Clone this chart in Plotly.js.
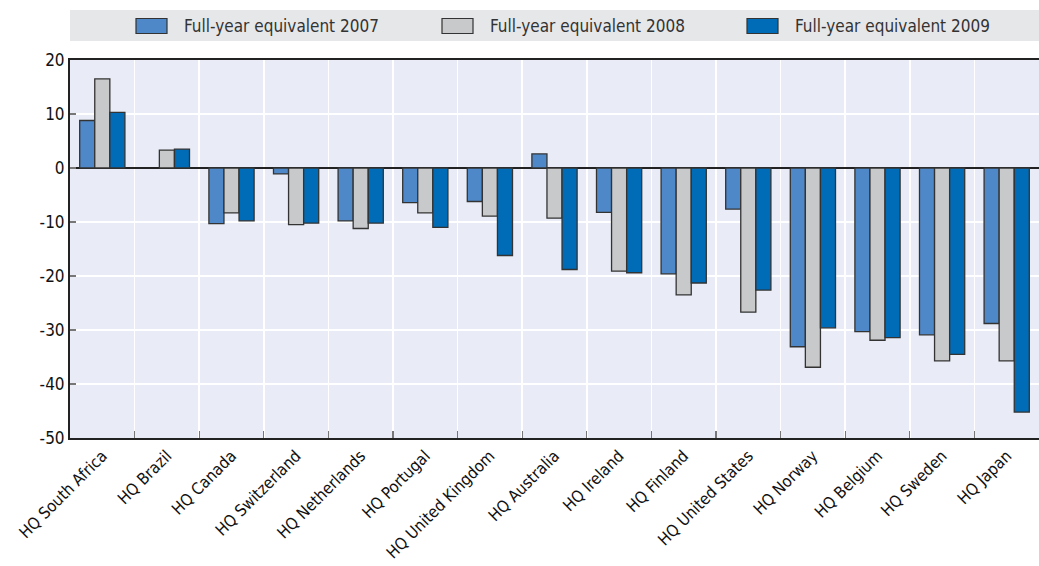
<!DOCTYPE html>
<html>
<head>
<meta charset="utf-8">
<script src="https://cdn.plot.ly/plotly-3.0.1.min.js"></script>
<style>
html,body{margin:0;padding:0;background:#fff;}
#chart{width:1039px;height:566px;}
</style>
</head>
<body>
<div id="chart"></div>
<script>
const categories = ["HQ South Africa","HQ Brazil","HQ Canada","HQ Switzerland","HQ Netherlands","HQ Portugal","HQ United Kingdom","HQ Australia","HQ Ireland","HQ Finland","HQ United States","HQ Norway","HQ Belgium","HQ Sweden","HQ Japan"];
const seriesNames = ["Full-year equivalent 2007","Full-year equivalent 2008","Full-year equivalent 2009"];
const values2007 = [8.8, null, -10.3, -1.1, -9.8, -6.4, -6.2, 2.6, -8.2, -19.6, -7.6, -33.1, -30.3, -30.9, -28.8];
const values2008 = [16.5, 3.3, -8.3, -10.5, -11.2, -8.3, -8.9, -9.3, -19.1, -23.5, -26.7, -36.9, -31.9, -35.7, -35.7];
const values2009 = [10.3, 3.5, -9.8, -10.2, -10.2, -11.0, -16.2, -18.8, -19.4, -21.3, -22.6, -29.6, -31.4, -34.5, -45.2];
const yTicks = [-50, -40, -30, -20, -10, 0, 10, 20];

const colors = ["#4f88c8", "#c8c9cb", "#006bb6"];
const allValues = [values2007, values2008, values2009];
const FONT = "'Liberation Sans Narrow', 'Arial Narrow', 'DejaVu Sans Condensed', sans-serif";

const W = 1039, H = 566;
const M = {l: 70, r: 0, t: 60, b: 128};
const plotW = W - M.l - M.r, plotH = H - M.t - M.b;

const traces = allValues.map((v, i) => ({
  type: "bar",
  name: seriesNames[i],
  x: categories,
  y: v,
  marker: {color: colors[i], line: {color: "#333333", width: 1.3}},
  hoverinfo: "x+y+name"
}));

// custom legend in paper coordinates (pixel -> paper)
const px = x => (x - M.l) / plotW;
const py = y => (H - M.b - y) / plotH;
const legendSymX = [136, 442, 747];
const shapes = [{
  type: "rect", xref: "paper", yref: "paper",
  x0: px(70), x1: px(1039), y0: py(41), y1: py(10),
  fillcolor: "#e6e7e9", line: {width: 0}, layer: "below"
}];
const annotations = [];
seriesNames.forEach((n, i) => {
  shapes.push({
    type: "rect", xref: "paper", yref: "paper",
    x0: px(legendSymX[i]), x1: px(legendSymX[i] + 31), y0: py(33.5), y1: py(18.5),
    fillcolor: colors[i], line: {color: "#333", width: 1.2}
  });
  annotations.push({
    xref: "paper", yref: "paper",
    x: px(legendSymX[i] + 46), y: py(25.5),
    xanchor: "left", yanchor: "middle",
    text: n, showarrow: false,
    font: {family: FONT, size: 17, color: "#333"}
  });
});

const layout = {
  width: W, height: H,
  margin: M,
  paper_bgcolor: "#ffffff",
  plot_bgcolor: "#e9ecf6",
  barmode: "group",
  bargap: 0.3,
  bargroupgap: 0,
  font: {family: FONT, size: 16, color: "#000"},
  showlegend: false,
  shapes: shapes,
  annotations: annotations,
  xaxis: {
    type: "category",
    tickson: "boundaries",
    showgrid: true, gridcolor: "#ffffff", gridwidth: 1.5,
    ticks: "inside", ticklen: 7, tickcolor: "#777", tickwidth: 1.2,
    tickangle: -45,
    showline: true, linecolor: "#222", linewidth: 2, mirror: true,
    tickfont: {family: FONT, size: 16.3, color: "#111"},
    automargin: false
  },
  yaxis: {
    range: [-50, 20],
    tickvals: yTicks,
    ticktext: yTicks.map(String),
    showgrid: true, gridcolor: "#ffffff", gridwidth: 1.5,
    zeroline: true, zerolinecolor: "#222", zerolinewidth: 1.2,
    ticks: "inside", ticklen: 6, tickcolor: "#777", tickwidth: 1.2,
    showline: true, linecolor: "#222", linewidth: 2,
    tickfont: {family: FONT, size: 17, color: "#111"},
    automargin: false
  }
};

Plotly.newPlot("chart", traces, layout, {displayModeBar: false, staticPlot: true});
</script>
</body>
</html>
